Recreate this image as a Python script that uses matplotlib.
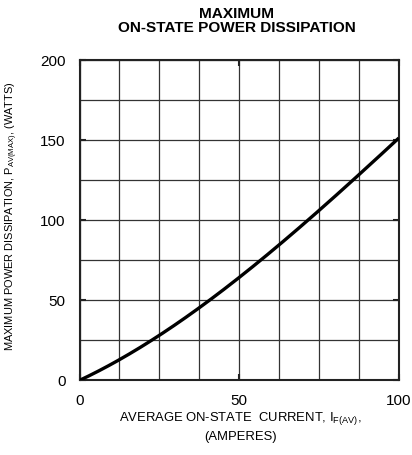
import matplotlib
matplotlib.use("Agg")
import matplotlib.pyplot as plt
import numpy as np

plt.rcParams['font.family'] = ['Liberation Sans', 'DejaVu Sans']
plt.rcParams['mathtext.fontset'] = 'custom'
plt.rcParams['mathtext.rm'] = 'Liberation Sans'
plt.rcParams['mathtext.it'] = 'Liberation Sans'
plt.rcParams['mathtext.bf'] = 'Liberation Sans:bold'

current = [0, 12.5, 25, 37.5, 50, 62.5, 75, 87.5, 100]
power = [0, 12.5, 27.1, 46.2, 64.6, 83.8, 105.2, 129.2, 151]

fig = plt.figure(figsize=(4.12, 4.55), dpi=100)
ax = fig.add_axes([0.193, 0.1648, 0.775, 0.7033])

xs = np.linspace(0, 100, 200)
coef = np.polyfit(current, power, 3)
ax.plot(xs, np.polyval(coef, xs), color='black', lw=2.4, solid_capstyle='butt', zorder=3)

ax.set_xlim(0, 100)
ax.set_ylim(0, 200)
ax.set_xticks([0, 50, 100])
ax.set_yticks([0, 50, 100, 150, 200])
ax.set_xticks(np.arange(0, 101, 12.5), minor=True)
ax.set_yticks(np.arange(0, 201, 25), minor=True)
ax.grid(which='minor', color='#333333', lw=0.9)
ax.grid(which='major', color='#333333', lw=0.9)
ax.tick_params(which='major', direction='in', length=4, width=1.5, labelsize=11,
               top=True, right=True, pad=10, colors='#222222', labelcolor='black')
ax.tick_params(which='minor', length=0)
for s in ax.spines.values():
    s.set_linewidth(1.5)
    s.set_color('#222222')

fig.text(0.575, 0.985, 'MAXIMUM\nON-STATE POWER DISSIPATION', ha='center', va='top',
         fontsize=11.1, fontweight='bold', linespacing=0.98)
fig.text(0.583, 0.081, 'AVERAGE ON-STATE  CURRENT, I$_{\\mathrm{F(AV)}}$,', ha='center',
         va='center', fontsize=9.4)
fig.text(0.583, 0.039, '(AMPERES)', ha='center', va='center', fontsize=9.4)
fig.text(0.029, 0.525, 'MAXIMUM POWER DISSIPATION, P$_{\\mathrm{AV(MAX)}}$, (WATTS)',
         rotation=90, ha='center', va='center', fontsize=7.9)

fig.savefig('out.png', dpi=100)
